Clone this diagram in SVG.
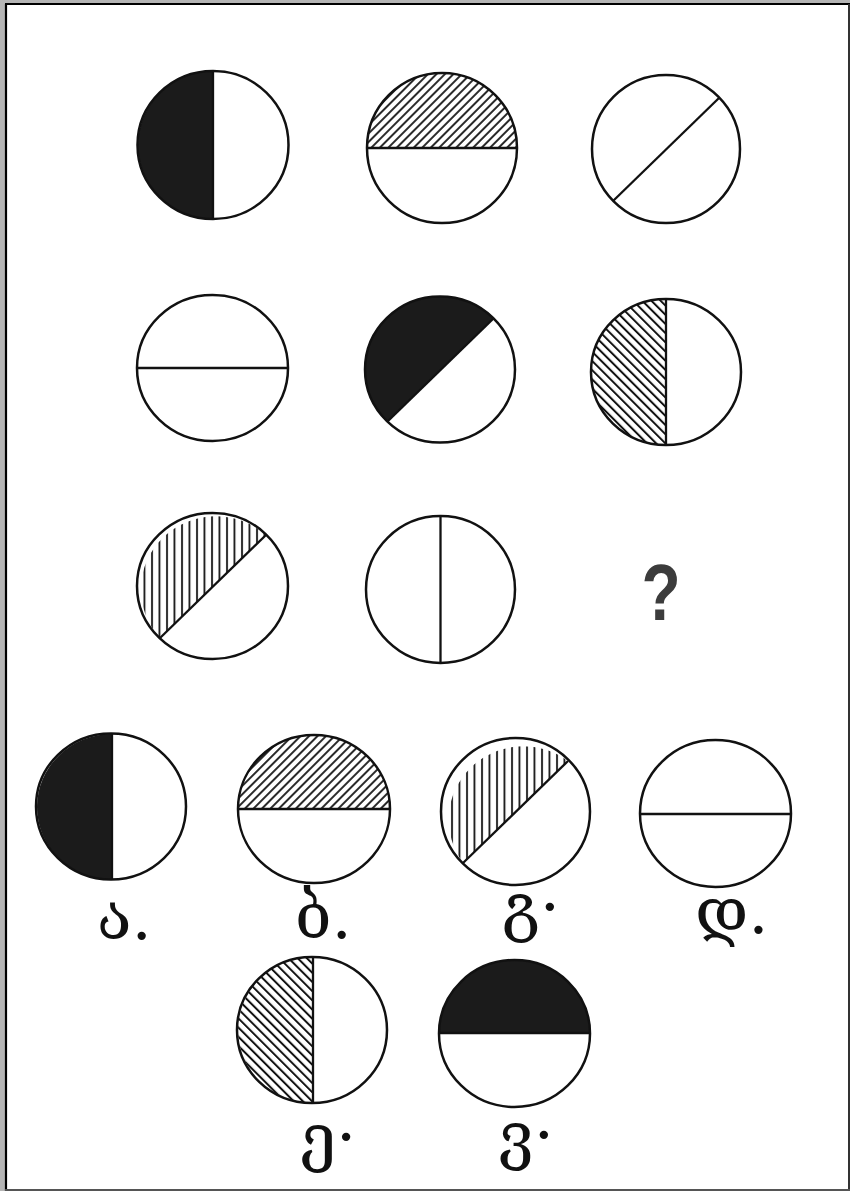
<svg xmlns="http://www.w3.org/2000/svg" width="850" height="1191" viewBox="0 0 850 1191">
<style>
.c{fill:none;stroke:#111;stroke-width:2.5}
.d{stroke:#111;stroke-width:2.3;fill:none}
.blk{fill:#1b1b1b}
.hs{fill:url(#hs)}
.hb{fill:url(#hb)}
.hv{fill:url(#hv)}
.lbl{font-family:"DejaVu Serif","DejaVu Sans",serif;font-size:64px;fill:#111}
.q{font-family:"Liberation Sans",Arial,sans-serif;font-weight:bold;font-size:80px;fill:#3c3c3c}
</style>
<defs>
<pattern id="hs" patternUnits="userSpaceOnUse" width="6" height="6" patternTransform="rotate(45)">
<rect width="6" height="6" fill="#fff"/><line x1="1" y1="0" x2="1" y2="6" stroke="#111" stroke-width="1.8"/>
</pattern>
<pattern id="hb" patternUnits="userSpaceOnUse" width="6.5" height="6.5" patternTransform="rotate(-45)">
<rect width="6.5" height="6.5" fill="#fff"/><line x1="1" y1="0" x2="1" y2="6.5" stroke="#111" stroke-width="2"/>
</pattern>
<pattern id="hv" patternUnits="userSpaceOnUse" width="7.5" height="8">
<rect width="7.5" height="8" fill="#fff"/><line x1="2" y1="0" x2="2" y2="8" stroke="#111" stroke-width="1.8"/>
</pattern>
</defs>
<rect width="850" height="1191" fill="#fff"/>
<g id="frame">
<rect x="0" y="0" width="5" height="1191" fill="#b5b5b5"/>
<rect x="0" y="0" width="850" height="3" fill="#b5b5b5"/>
<line x1="6" y1="4" x2="6" y2="1191" stroke="#000" stroke-width="2.2"/>
<line x1="5" y1="4" x2="850" y2="4" stroke="#000" stroke-width="2.2"/>
<line x1="849" y1="4" x2="849" y2="1191" stroke="#333" stroke-width="2"/>
<line x1="5" y1="1190" x2="850" y2="1190" stroke="#555" stroke-width="2"/>
</g>

<g id="r1c1">
<path class="blk" d="M213,71 A75,74 0 0 0 213,219 Z"/>
<line class="d" x1="213" y1="71" x2="213" y2="219"/>
<ellipse class="c" cx="213" cy="145" rx="75.5" ry="74"/>
</g>
<g id="r1c2">
<path class="hs" d="M367,148 A75,75 0 0 1 517,148 Z"/>
<line class="d" x1="367" y1="148" x2="517" y2="148"/>
<ellipse class="c" cx="442" cy="148" rx="75" ry="75"/>
</g>
<g id="r1c3">
<line class="d" x1="613" y1="201" x2="719" y2="98"/>
<ellipse class="c" cx="666" cy="149" rx="74" ry="74"/>
</g>

<g id="r2c1">
<line class="d" x1="137" y1="368" x2="288" y2="368"/>
<ellipse class="c" cx="212.5" cy="368" rx="75.5" ry="73"/>
</g>
<g id="r2c2">
<path class="blk" d="M387,422 A75,73 0 0 1 494,318 Z"/>
<line class="d" x1="387" y1="422" x2="494" y2="318"/>
<ellipse class="c" cx="440" cy="369.5" rx="75" ry="73"/>
</g>
<g id="r2c3">
<path class="hb" d="M666,299 A75,73 0 0 0 666,445 Z"/>
<line class="d" x1="666" y1="299" x2="666" y2="445"/>
<ellipse class="c" cx="666" cy="372" rx="75" ry="73"/>
</g>

<g id="r3c1">
<path class="hv" d="M160,638 A75,73 0 0 1 266,535 Z"/>
<line class="d" x1="160" y1="638" x2="266" y2="535"/>
<ellipse class="c" cx="212.5" cy="586" rx="75.5" ry="73"/>
</g>
<g id="r3c2">
<line class="d" x1="440.5" y1="516" x2="440.5" y2="663"/>
<ellipse class="c" cx="440.5" cy="589.5" rx="74.5" ry="73.5"/>
</g>
<g id="q">
<text class="q" x="661" y="620" text-anchor="middle" transform="translate(661,0) scale(0.8,1) translate(-661,0)">?</text>
</g>

<g id="optA">
<path class="blk" d="M112,734 A75,73 0 0 0 112,880 Z"/>
<line class="d" x1="112" y1="734" x2="112" y2="880"/>
<ellipse class="c" cx="111" cy="806.5" rx="75" ry="73"/>
<text class="lbl" x="97" y="939">ა.</text>
</g>
<g id="optB">
<path class="hs" d="M238,809 A76,74 0 0 1 390,809 Z"/>
<line class="d" x1="238" y1="809" x2="390" y2="809"/>
<ellipse class="c" cx="314" cy="809" rx="76" ry="74"/>
<text class="lbl" x="295" y="938">ბ.</text>
</g>
<g id="optC">
<path class="hv" d="M463,863 A74.5,73.5 0 0 1 568,761 Z"/>
<line class="d" x1="463" y1="863" x2="568" y2="761"/>
<ellipse class="c" cx="515.5" cy="811.5" rx="74.5" ry="73.5"/>
<text class="lbl" x="502" y="929">გ·</text>
</g>
<g id="optD">
<line class="d" x1="640" y1="814" x2="791" y2="814"/>
<ellipse class="c" cx="715.5" cy="813.5" rx="75.5" ry="73.5"/>
<text class="lbl" x="695" y="933">დ.</text>
</g>
<g id="optE">
<path class="hb" d="M313,957 A75,73 0 0 0 313,1103 Z"/>
<line class="d" x1="313" y1="957" x2="313" y2="1103"/>
<ellipse class="c" cx="312" cy="1030" rx="75" ry="73"/>
<text class="lbl" x="300" y="1159">ე·</text>
</g>
<g id="optF">
<path class="blk" d="M439,1033 A75.5,73.5 0 0 1 590,1033 Z"/>
<line class="d" x1="439" y1="1033" x2="590" y2="1033"/>
<ellipse class="c" cx="514.5" cy="1033.5" rx="75.5" ry="73.5"/>
<text class="lbl" x="498" y="1157">ვ·</text>
</g>
</svg>
